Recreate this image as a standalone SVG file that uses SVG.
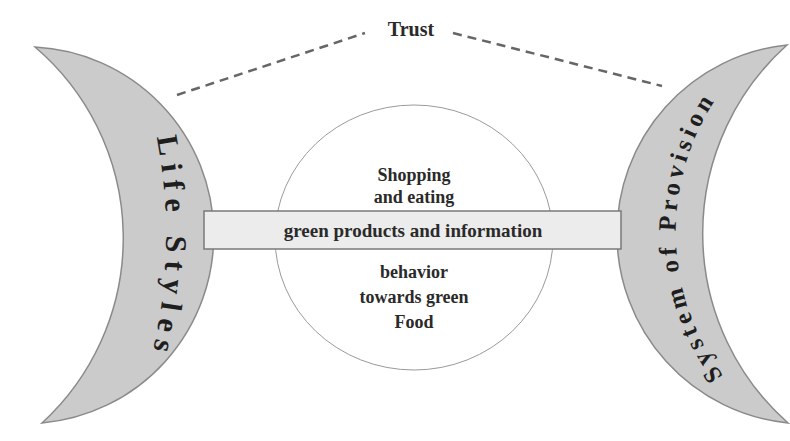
<svg xmlns="http://www.w3.org/2000/svg" width="790" height="441" viewBox="0 0 790 441">
  <defs>
    <style>
      .crescent { fill: #cbcbcb; stroke: #8a8a8a; stroke-width: 1.5; }
      .band { fill: #ececec; stroke: #7a7a7a; stroke-width: 1.5; }
      .hub { fill: #ffffff; stroke: #9a9a9a; stroke-width: 1; }
      .dash { fill: none; stroke: #666666; stroke-width: 2.5; stroke-dasharray: 9 6; }
      .t { font-family: "Liberation Serif", "Times New Roman", serif; font-weight: bold; fill: #2a2a2a; text-anchor: middle; }
      .curve { font-family: "Liberation Serif", "Times New Roman", serif; font-weight: bold; fill: #1e1e1e; }
    </style>
    <path id="lifePath" d="M 135 60 A 507 507 0 0 1 135 410" fill="none"/>
    <path id="sopPath" d="M 744 400 A 241 241 0 0 1 744 64" fill="none"/>
  </defs>
  <rect width="790" height="441" fill="#ffffff"/>

  <g id="connectors">
    <line class="dash" x1="177" y1="95" x2="365" y2="33"/>
    <line class="dash" x1="453" y1="33" x2="662" y2="86"/>
  </g>

  <g id="trust">
    <text class="t" x="411" y="36" font-size="20">Trust</text>
  </g>

  <g id="life-styles">
    <path class="crescent" d="M 35 47 A 188.5 188.5 0 0 1 42 423 A 251 251 0 0 0 35 47 Z"/>
    <text class="curve" font-size="30" letter-spacing="8"><textPath href="#lifePath" startOffset="53.5%" text-anchor="middle">Life Styles</textPath></text>
  </g>

  <g id="system-of-provision">
    <path class="crescent" d="M 787 45 A 190 190 0 0 0 788 423 A 253 253 0 0 1 787 45 Z"/>
    <text class="curve" font-size="25" letter-spacing="4.5"><textPath href="#sopPath" startOffset="48.4%" text-anchor="middle">System of Provision</textPath></text>
  </g>

  <g id="behavior">
    <ellipse class="hub" cx="414" cy="237.5" rx="139" ry="132.5"/>
    <text class="t" x="414" y="181" font-size="18">Shopping</text>
    <text class="t" x="414" y="203" font-size="18">and eating</text>
    <text class="t" x="414" y="278" font-size="18">behavior</text>
    <text class="t" x="414" y="303" font-size="18">towards green</text>
    <text class="t" x="414" y="328" font-size="18">Food</text>
  </g>

  <g id="green-products">
    <rect class="band" x="204" y="211" width="417" height="38"/>
    <text class="t" x="413" y="237" font-size="19">green products and information</text>
  </g>
</svg>
